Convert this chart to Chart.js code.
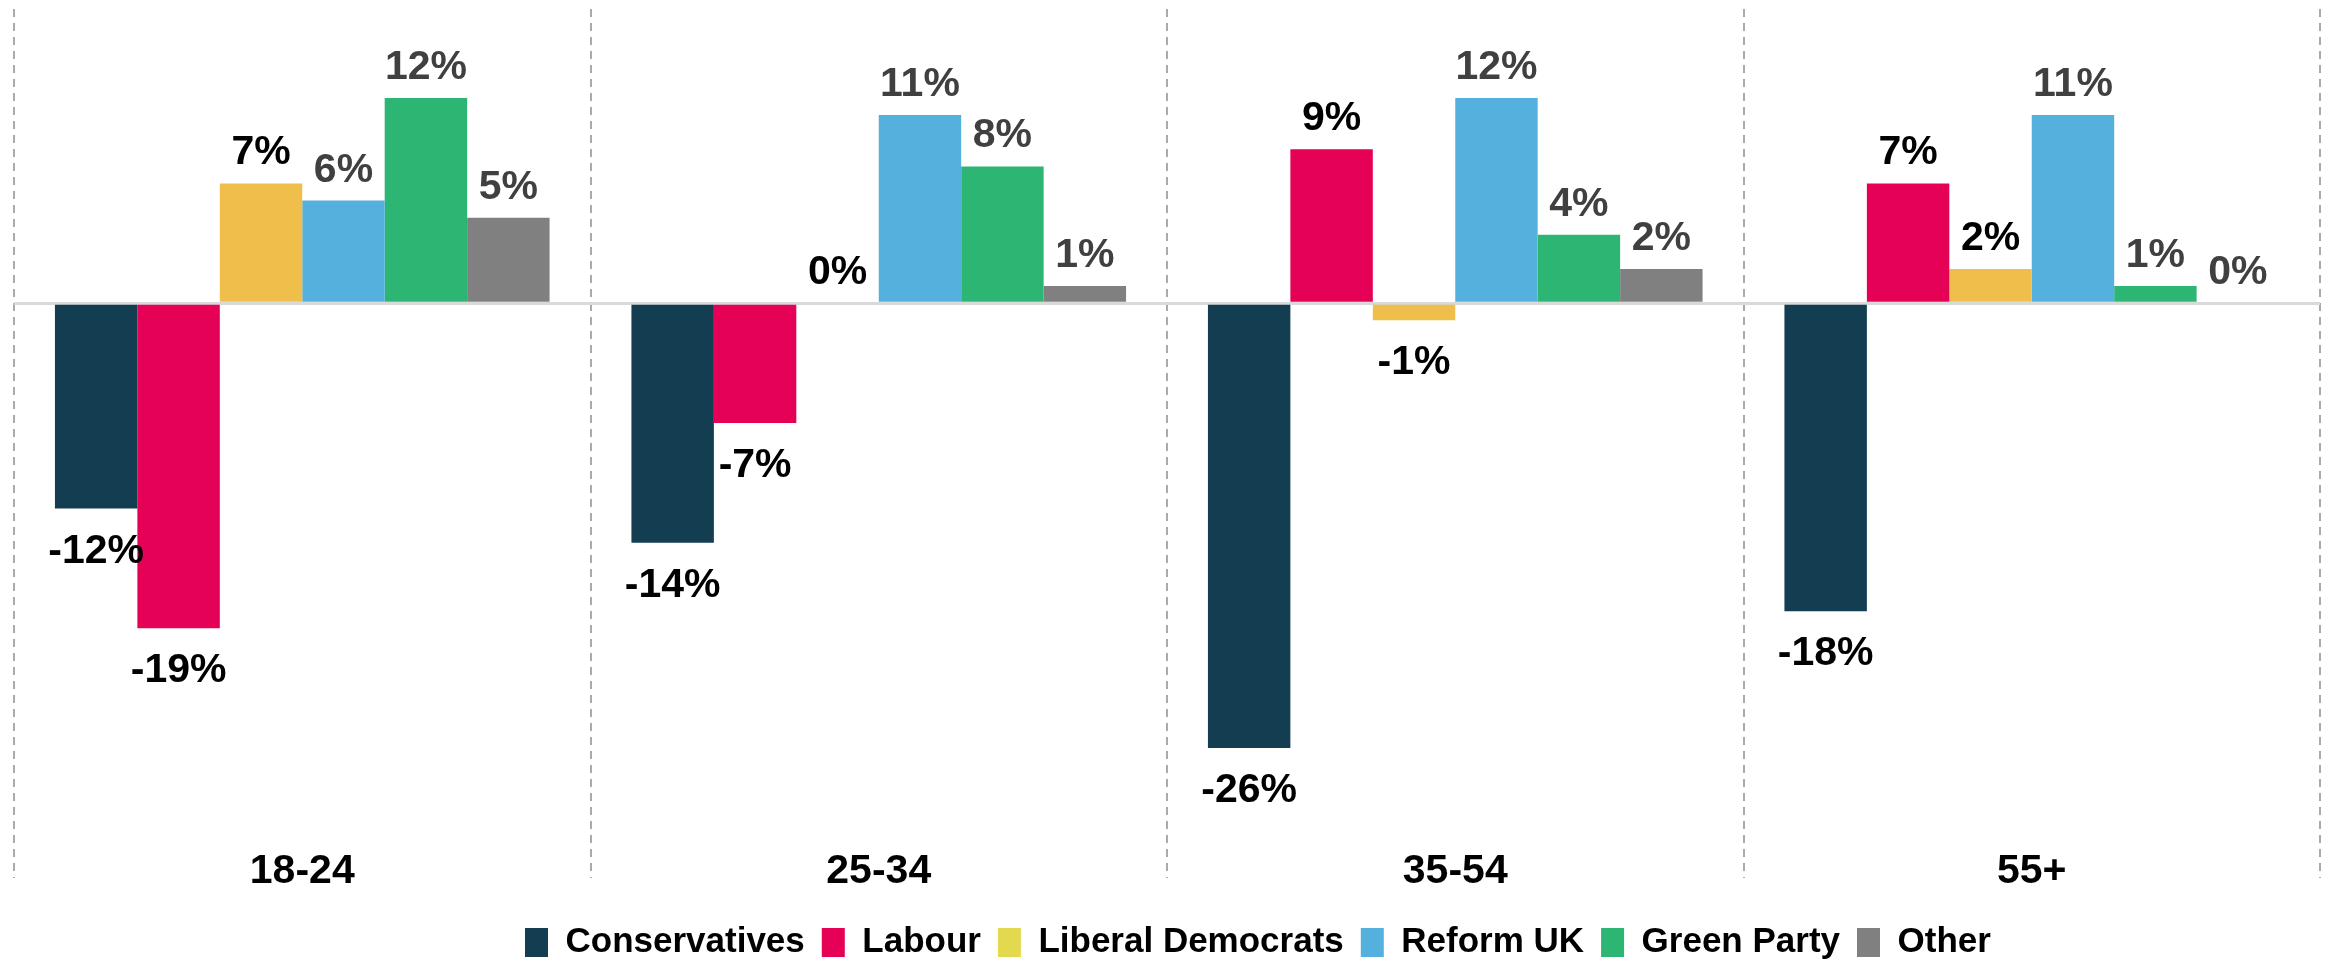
<!DOCTYPE html>
<html>
<head>
<meta charset="utf-8">
<script src="https://cdn.jsdelivr.net/npm/chart.js@4.4.1/dist/chart.umd.min.js"></script>
<style>
    html, body { margin: 0; padding: 0; background: #fff; }
    #wrap { width: 2330px; height: 963px; }
</style>
</head>
<body>
<div id="wrap"><canvas id="swingChart"></canvas></div>
<script>
// vote change by age group
const ageGroups = ['18-24', '25-34', '35-54', '55+'];
const parties = ['Conservatives', 'Labour', 'Liberal Democrats', 'Reform UK', 'Green Party', 'Other'];

const conservatives = [-12, -14, -26, -18];
const labour = [-19, -7, 9, 7];
const libDems = [7, 0, -1, 2];
const reformUK = [6, 11, 12, 11];
const greenParty = [12, 8, 4, 1];
const other = [5, 1, 2, 0];

const barColors = ['#133d51', '#e50256', '#f0be4a', '#54b0dc', '#2db673', '#808080'];
const legendColors = ['#133d51', '#e50256', '#e3d94f', '#54b0dc', '#2db673', '#808080'];
const labelColors = ['#000000', '#000000', '#000000', '#404040', '#404040', '#404040'];

const seriesValues = [conservatives, labour, libDems, reformUK, greenParty, other];

Chart.defaults.font.family = "'Liberation Sans', Arial, sans-serif";
Chart.defaults.font.weight = 'bold';
Chart.defaults.color = '#000';

// percentage labels above / below each bar
const valueLabels = {
    id: 'valueLabels',
    afterDatasetsDraw(chart) {
        const ctx = chart.ctx;
        ctx.save();
        ctx.font = "bold 41px 'Liberation Sans', Arial, sans-serif";
        ctx.textAlign = 'center';
        ctx.textBaseline = 'alphabetic';
        chart.data.datasets.forEach((ds, i) => {
            const meta = chart.getDatasetMeta(i);
            ctx.fillStyle = labelColors[i];
            meta.data.forEach((bar, j) => {
                const v = ds.data[j];
                const y = v >= 0 ? bar.y - 19 : bar.y + 54;
                ctx.fillText(v + '%', bar.x, y);
            });
        });
        ctx.restore();
    }
};

// legend sits a bit right of centre in the original
const legendShift = {
    id: 'legendShift',
    afterLayout(chart) {
        const lg = chart.legend;
        if (!lg || !lg.lineWidths) return;
        const pad = lg.options.labels.padding;
        const start = (lg.left + pad + lg.right - lg.lineWidths[0]) / 2;
        const d = 525 - start;
        lg.left += d;
        lg.right += d;
    }
};

function swingChart(id) {
    const datasets = parties.map((p, i) => ({
        label: p,
        data: seriesValues[i],
        backgroundColor: barColors[i],
        borderWidth: 0,
        categoryPercentage: 0.858,
        barPercentage: 1
    }));

    const config = {
        type: 'bar',
        data: {
            labels: ageGroups,
            datasets: datasets
        },
        options: {
            responsive: true,
            maintainAspectRatio: false,
            animation: false,
            layout: {
                padding: {left: 14, right: 10, top: 9, bottom: -7}
            },
            plugins: {
                tooltip: {enabled: false},
                legend: {
                    position: 'bottom',
                    labels: {
                        boxWidth: 23,
                        boxHeight: 29,
                        padding: 17,
                        color: '#000',
                        font: {size: 35, weight: 'bold'},
                        generateLabels(chart) {
                            const items = Chart.defaults.plugins.legend.labels.generateLabels(chart);
                            items.forEach((it, i) => {
                                it.fillStyle = legendColors[i];
                                it.strokeStyle = legendColors[i];
                                it.lineWidth = 0;
                            });
                            return items;
                        }
                    }
                }
            },
            scales: {
                x: {
                    offset: true,
                    grid: {
                        offset: true,
                        drawTicks: false,
                        lineWidth: 2,
                        color: '#aaaaaa'
                    },
                    border: {display: false, dash: [8, 6]},
                    ticks: {
                        mirror: true,
                        padding: -18,
                        color: '#000',
                        font: {size: 41, weight: 'bold'}
                    },
                    afterFit(axis) {
                        axis.height = 30;
                    }
                },
                y: {
                    min: -33.6,
                    max: 17.2,
                    grid: {
                        drawTicks: false,
                        lineWidth: 3,
                        color: c => c.tick && c.tick.value === 0 ? '#d9d9d9' : 'rgba(0,0,0,0)'
                    },
                    border: {display: false},
                    ticks: {display: false, stepSize: 10}
                }
            }
        },
        plugins: [valueLabels, legendShift]
    };

    let ctx = document.getElementById(id).getContext('2d');
    new Chart(ctx, config);
}

swingChart('swingChart');
</script>
</body>
</html>
